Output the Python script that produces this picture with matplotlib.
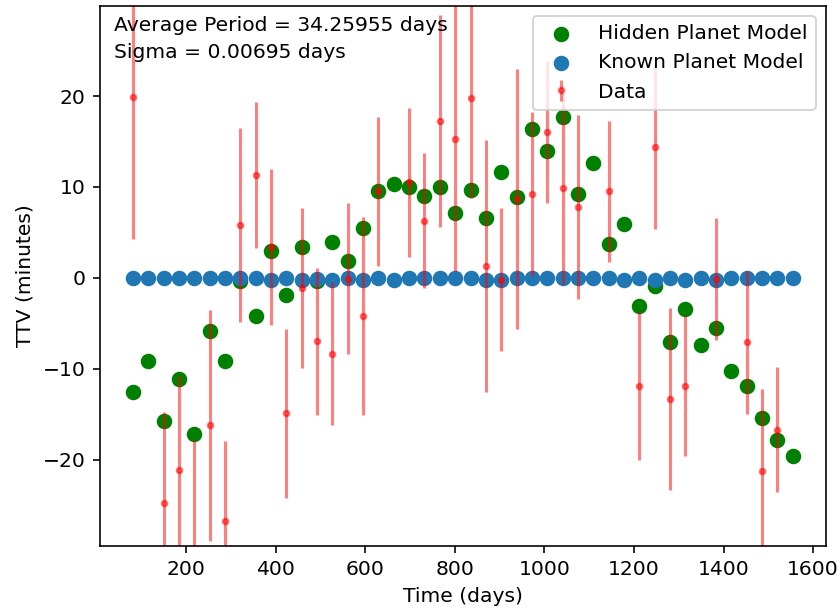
import numpy as np
import matplotlib
matplotlib.use('Agg')
from matplotlib import pyplot as plt

# transit times (days) for the model curves
times = [81.1, 115.4, 149.6, 183.9, 218.1, 252.4, 286.7, 320.9, 355.2, 389.4,
         423.7, 458.0, 492.2, 526.5, 560.7, 595.0, 629.3, 663.5, 697.8, 732.0,
         766.3, 800.6, 834.8, 869.1, 903.3, 937.6, 971.9, 1006.1, 1040.4, 1074.6,
         1108.9, 1143.2, 1177.4, 1211.7, 1245.9, 1280.2, 1314.5, 1348.7, 1383.0, 1417.2,
         1451.5, 1485.8, 1520.0, 1554.3]

hidden_ttv = [-12.6, -9.1, -15.7, -11.1, -17.2, -5.9, -9.1, -0.3, -4.2, 2.9,
              -1.9, 3.4, -0.4, 3.9, 1.8, 5.45, 9.5, 10.3, 10.0, 9.0,
              10.0, 7.1, 9.7, 6.6, 11.6, 8.9, 16.4, 14.0, 17.65, 9.2,
              12.6, 3.7, 5.9, -3.1, -0.95, -7.1, -3.4, -7.4, -5.5, -10.3,
              -11.9, -15.4, -17.8, -19.6]

known_ttv = [0.0, 0.0, 0.0, 0.0, 0.0, 0.0, 0.0, 0.0, 0.0, -0.2,
             0.0, -0.2, -0.1, -0.2, 0.0, -0.2, 0.0, -0.25, 0.0, 0.0,
             0.0, 0.0, 0.0, -0.2, -0.2, 0.0, 0.0, 0.0, 0.0, 0.0,
             0.0, 0.0, -0.2, 0.0, -0.2, 0.0, -0.2, 0.0, -0.2, 0.0,
             0.0, 0.0, 0.0, 0.0]

# observed transits
data_times = [81.1, 149.6, 183.9, 218.1, 252.4, 286.7, 320.9, 355.2, 389.4, 423.7,
              458.0, 492.2, 526.5, 560.7, 595.0, 629.3, 697.8, 732.0, 766.3, 800.6,
              834.8, 869.1, 903.3, 937.6, 971.9, 1006.1, 1040.4, 1074.6, 1143.2, 1211.7,
              1245.9, 1280.2, 1314.5, 1383.0, 1451.5, 1485.8, 1520.0]
data_ttv = [19.9, -24.8, -21.1, -30.5, -16.2, -26.8, 5.8, 11.3, 3.4, -14.9,
            -1.1, -7.0, -8.35, -0.1, -4.2, 9.5, 10.5, 6.3, 17.25, 15.3,
            19.8, 1.3, -0.2, 8.65, 9.2, 16.0, 9.85, 7.8, 9.5, -11.9,
            14.4, -13.3, -11.9, -0.15, -7.1, -21.2, -16.7]
data_err = [15.6, 10.0, 10.3, 12.7, 12.7, 8.8, 10.7, 8.0, 8.6, 9.3,
            8.8, 8.1, 7.85, 8.3, 10.9, 8.2, 8.2, 7.4, 11.7, 14.6,
            11.0, 13.9, 7.9, 14.3, 9.0, 7.8, 10.5, 10.1, 7.8, 8.1,
            9.0, 10.0, 7.7, 6.7, 7.9, 9.0, 6.9]

dpi = 146.2
fig = plt.figure(figsize=(840/dpi, 614/dpi), dpi=dpi)
ax = fig.add_subplot(111)
fig.subplots_adjust(left=100/840, right=825.7/840, bottom=1-546/614, top=1-6/614)

ax.scatter(times, hidden_ttv, color='green', s=44, label='Hidden Planet Model')
ax.scatter(times, known_ttv, color='#1f77b4', s=44, label='Known Planet Model')
ax.errorbar(data_times, data_ttv, yerr=data_err, fmt='.', color='red', alpha=0.5,
            markersize=5.5, label='Data')

ax.set_ylim(-29.5, 29.9)
ax.set_xlabel('Time (days)')
ax.set_ylabel('TTV (minutes)')
ax.legend(loc='upper right')

ax.text(0.019, 0.954, 'Average Period = 34.25955 days', transform=ax.transAxes, va='baseline')
ax.text(0.019, 0.903, 'Sigma = 0.00695 days', transform=ax.transAxes, va='baseline')

plt.savefig('out.png', dpi=dpi)
